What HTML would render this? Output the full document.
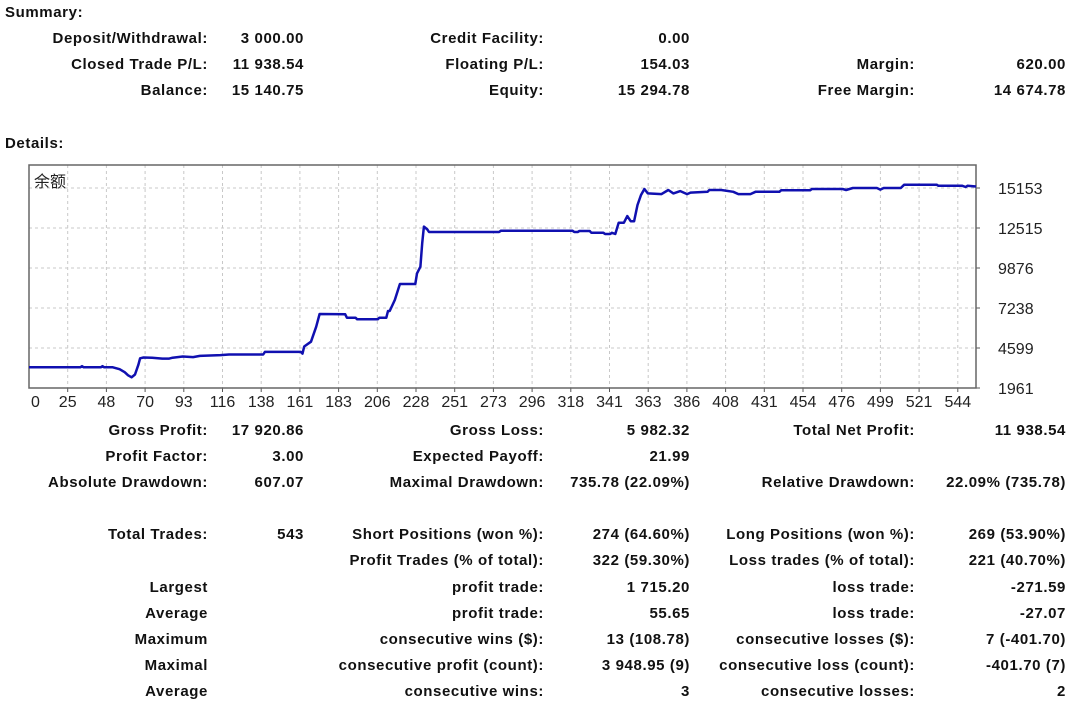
<!DOCTYPE html>
<html><head><meta charset="utf-8">
<style>
body{margin:0;width:1080px;height:704px;background:#fff;position:relative;overflow:hidden;font-family:"Liberation Sans","Noto Sans CJK SC",sans-serif;color:#111}
.t{position:absolute;font-weight:bold;font-size:15px;letter-spacing:0.6px;white-space:nowrap;line-height:16px}
.r{text-align:right}
svg{position:absolute;left:0;top:0}
</style></head><body>
<div class="t" style="left:5px;top:5px">Summary:</div>
<div class="t" style="left:5px;top:136px">Details:</div>
<div id="rows"></div>
<svg id="chart" width="1080" height="420"></svg>
<script>
// ---- chart data ----
const trades=[0,30,31,32,42,43,44,49,53,56,58,60,62,64,65,67,72,78,82,84,90,96,100,112,117,137,138,159,160,161,165,168,170,185,186,191,192,204,205,209,210,211,214,217,226,227,229,230,231,233,234,275,276,318,319,321,322,328,329,336,337,340,341,343,345,348,350,352,354,356,358,360,362,370,374,377,381,385,387,397,398,405,412,415,422,425,439,440,457,458,476,478,480,482,496,498,500,510,512,531,532,546,548,549,554];
const balance=[3326,3326,3400,3326,3326,3400,3326,3326,3200,3000,2800,2667,2850,3500,3920,3975,3950,3900,3900,3960,4040,4000,4080,4130,4170,4170,4340,4340,4230,4700,5015,6005,6840,6820,6600,6600,6490,6490,6600,6600,7040,7040,7766,8820,8820,9520,9960,11505,12605,12420,12250,12250,12330,12330,12250,12250,12316,12316,12200,12200,12120,12120,12200,12120,12865,12865,13300,12960,12960,14030,14690,15090,14800,14750,15020,14800,14950,14750,14850,14910,15020,15020,14900,14750,14750,14900,14900,15000,15000,15090,15090,15020,15090,15150,15150,15050,15150,15150,15370,15370,15300,15300,15220,15300,15250];
const xTickLabels=["0","25","48","70","93","116","138","161","183","206","228","251","273","296","318","341","363","386","408","431","454","476","499","521","544"];
const yTickLabels=["1961","4599","7238","9876","12515","15153"];
const yTickValues=[1961,4599,7238,9876,12515,15153];
// ---- scales ----
const L=29,T=165,R=976,B=388,XMAX=554;
const x=i=>L+(i/XMAX)*(R-L);
const y=v=>B-(v-1961)/(15153-1961)*200;
const NS="http://www.w3.org/2000/svg";
const svg=document.getElementById('chart');
function mk(tag,at){const e=document.createElementNS(NS,tag);for(const k in at)e.setAttribute(k,at[k]);svg.appendChild(e);return e;}
for(let k=1;k<25;k++){const gx=L+k*38.7;
 const g=mk('line',{x1:gx,x2:gx,y1:T,y2:B,stroke:'#c8c8c8','stroke-dasharray':'3,3'});
 
 
 const tk=mk('line',{x1:gx,x2:gx,y1:B,y2:B+4,stroke:'#555'});
 
 }
yTickValues.forEach((v,i)=>{const gy=y(v);
 if(i>0){const g=mk('line',{x1:L,x2:R,y1:gy,y2:gy,stroke:'#c8c8c8','stroke-dasharray':'3,3'});
 
 }
 const tk=mk('line',{x1:R,x2:R+4,y1:gy,y2:gy,stroke:'#555'});
 
 
 const t=mk('text',{x:998,y:gy+6,'font-size':'16','font-family':'Liberation Sans, sans-serif',fill:'#222'});
 t.textContent=yTickLabels[i];
 
 });
xTickLabels.forEach((lab,k)=>{const t=mk('text',{x:k===0?31:L+k*38.7,y:407,'font-size':'16','font-family':'Liberation Sans, sans-serif',fill:'#222','text-anchor':k===0?'start':'middle'});
 t.textContent=lab;
 
 });
const fr=mk('rect',{x:L,y:T,width:R-L,height:B-T,fill:'none',stroke:'#666','stroke-width':'1.5'});


const ct=mk('text',{x:34,y:187,'font-size':'16','font-family':'Noto Sans CJK SC, sans-serif',fill:'#222'});
ct.textContent='余额';


let d='';
trades.forEach((t,i)=>{d+=(i?'L':'M')+x(t).toFixed(1)+','+y(balance[i]).toFixed(1);});
const ln=mk('path',{d:d,fill:'none',stroke:'#1010b0','stroke-width':'2.5','stroke-linejoin':'round'});



const rows=[
[38,"Deposit/Withdrawal:","3 000.00","Credit Facility:","0.00","",""],
[64,"Closed Trade P/L:","11 938.54","Floating P/L:","154.03","Margin:","620.00"],
[90,"Balance:","15 140.75","Equity:","15 294.78","Free Margin:","14 674.78"],
[430,"Gross Profit:","17 920.86","Gross Loss:","5 982.32","Total Net Profit:","11 938.54"],
[456,"Profit Factor:","3.00","Expected Payoff:","21.99","",""],
[482,"Absolute Drawdown:","607.07","Maximal Drawdown:","735.78 (22.09%)","Relative Drawdown:","22.09% (735.78)"],
[534,"Total Trades:","543","Short Positions (won %):","274 (64.60%)","Long Positions (won %):","269 (53.90%)"],
[560,"","","Profit Trades (% of total):","322 (59.30%)","Loss trades (% of total):","221 (40.70%)"],
[587,"Largest","","profit trade:","1 715.20","loss trade:","-271.59"],
[613,"Average","","profit trade:","55.65","loss trade:","-27.07"],
[639,"Maximum","","consecutive wins ($):","13 (108.78)","consecutive losses ($):","7 (-401.70)"],
[665,"Maximal","","consecutive profit (count):","3 948.95 (9)","consecutive loss (count):","-401.70 (7)"],
[691,"Average","","consecutive wins:","3","consecutive losses:","2"]];
const rights=[208,304,544,690,915,1066];
const host=document.getElementById('rows');
rows.forEach(r=>{for(let c=0;c<6;c++){const s=r[c+1];if(!s)continue;
 const e=document.createElement('div');e.className='t r';
 e.style.right=(1080-rights[c])+'px';e.style.top=(r[0]-7)+'px';e.textContent=s;
 
 
 host.appendChild(e);}});
</script>
</body></html>
